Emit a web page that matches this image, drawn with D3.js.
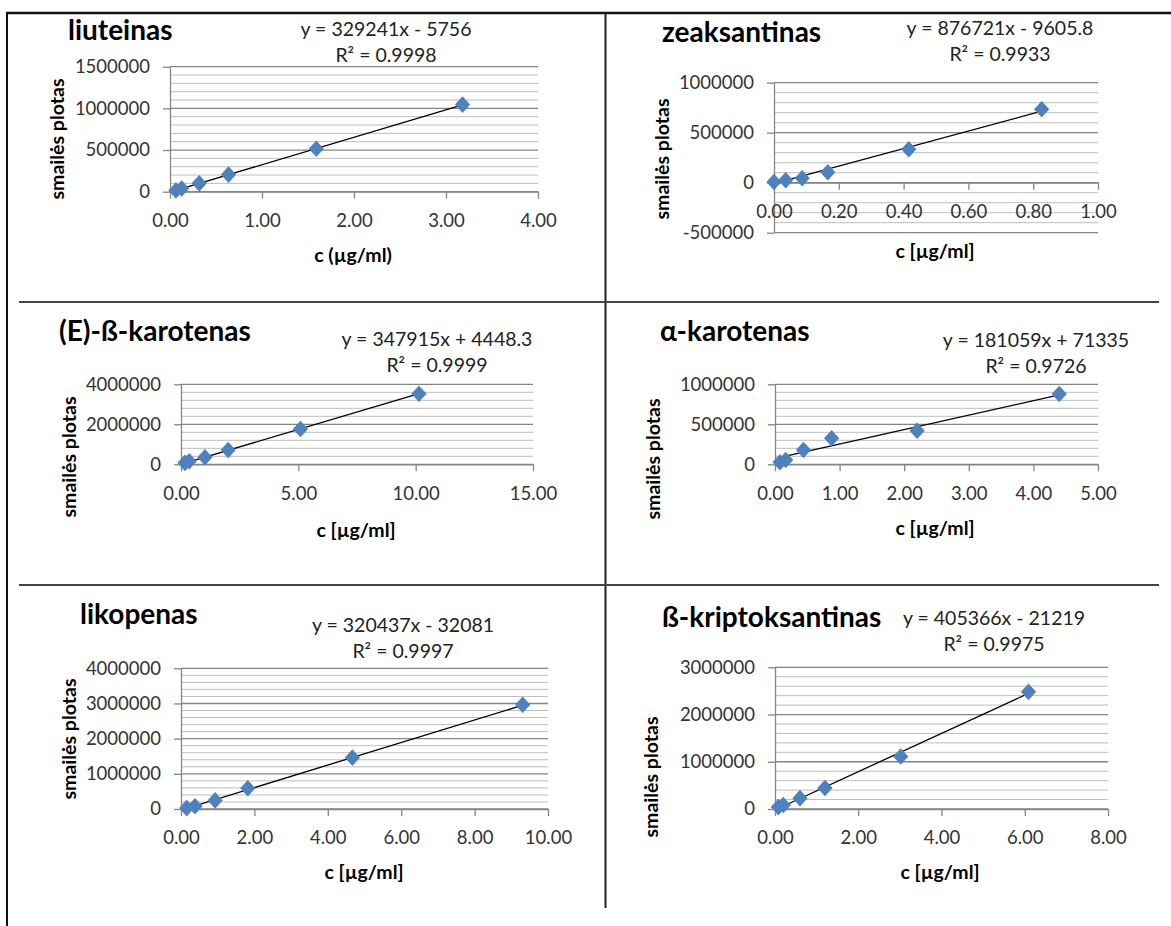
<!DOCTYPE html>
<html>
<head>
<meta charset="utf-8">
<script src="https://cdn.jsdelivr.net/npm/d3@7"></script>
<style>
  body { margin: 0; background: #fff; }
  svg text { font-family: Lato, "Open Sans", "DejaVu Sans", sans-serif; }
</style>
</head>
<body>
<svg id="chart" width="1171" height="926"></svg>
<script>
// ---------------- DATA ----------------
const chartTitles = ["liuteinas", "zeaksantinas", "(E)-ß-karotenas", "α-karotenas", "likopenas", "ß-kriptoksantinas"];
const equationLabels = ["y = 329241x - 5756", "y = 876721x - 9605.8", "y = 347915x + 4448.3", "y = 181059x + 71335", "y = 320437x - 32081", "y = 405366x - 21219"];
const r2Labels = ["R² = 0.9998", "R² = 0.9933", "R² = 0.9999", "R² = 0.9726", "R² = 0.9997", "R² = 0.9975"];
const slopes = [329241, 876721, 347915, 181059, 320437, 405366];
const intercepts = [-5756, -9605.8, 4448.3, 71335, -32081, -21219];
const xAxisTitles = ["c (µg/ml)", "c [µg/ml]", "c [µg/ml]", "c [µg/ml]", "c [µg/ml]", "c [µg/ml]"];
const yAxisTitle = "smailės plotas";

const luteinConc = [0.064, 0.127, 0.318, 0.636, 1.59, 3.18];
const luteinArea = [15000, 38000, 100000, 205000, 515000, 1045000];
const zeaxanthinConc = [0.0, 0.036, 0.087, 0.166, 0.416, 0.826];
const zeaxanthinArea = [8000, 25000, 45000, 105000, 335000, 735000];
const betaCaroteneConc = [0.17, 0.35, 1.02, 2.01, 5.09, 10.14];
const betaCaroteneArea = [72000, 150000, 355000, 712000, 1765000, 3530000];
const alphaCaroteneConc = [0.077, 0.165, 0.44, 0.876, 2.2, 4.4];
const alphaCaroteneArea = [25000, 55000, 180000, 325000, 420000, 880000];
const lycopeneConc = [0.155, 0.38, 0.93, 1.82, 4.67, 9.31];
const lycopeneArea = [25000, 80000, 245000, 590000, 1460000, 2965000];
const cryptoxanthinConc = [0.08, 0.2, 0.6, 1.2, 3.02, 6.09];
const cryptoxanthinArea = [40000, 85000, 230000, 445000, 1110000, 2480000];

const xDomains = [[0, 4], [0, 1], [0, 15], [0, 5], [0, 10], [0, 8]];
const xTickValues = [[0, 1, 2, 3, 4], [0, 0.2, 0.4, 0.6, 0.8, 1], [0, 5, 10, 15], [0, 1, 2, 3, 4, 5], [0, 2, 4, 6, 8, 10], [0, 2, 4, 6, 8]];
const yDomains = [[0, 1500000], [-500000, 1000000], [0, 4000000], [0, 1000000], [0, 4000000], [0, 3000000]];
const yMajorSteps = [500000, 500000, 2000000, 500000, 1000000, 1000000];
const yMinorSteps = [100000, 100000, 400000, 100000, 200000, 200000];

const seriesX = [luteinConc, zeaxanthinConc, betaCaroteneConc, alphaCaroteneConc, lycopeneConc, cryptoxanthinConc];
const seriesY = [luteinArea, zeaxanthinArea, betaCaroteneArea, alphaCaroteneArea, lycopeneArea, cryptoxanthinArea];

// ---------------- LAYOUT (pixels) ----------------
const layout = [
  { x0: 170, x1: 538, yT: 66.7, yB: 191.7, title: [68, 40], eq: [386, 36], xt: [353, 255], yt: [57, 139] },
  { x0: 774, x1: 1098, yT: 82.7, yB: 232.7, title: [662, 42], eq: [1000, 35], xt: [935, 251], yt: [662, 159] },
  { x0: 181, x1: 533, yT: 384.3, yB: 464.3, title: [59, 341], eq: [437, 345.7], xt: [356, 530], yt: [69, 457] },
  { x0: 775, x1: 1098, yT: 384.3, yB: 464.3, title: [660, 341], eq: [1036, 346.7], xt: [935, 528], yt: [653, 459] },
  { x0: 181, x1: 548, yT: 668.3, yB: 809, title: [80, 624], eq: [403, 631.7], xt: [364, 872], yt: [69, 739] },
  { x0: 775, x1: 1108, yT: 667.3, yB: 809, title: [662, 627], eq: [994, 625], xt: [940, 872], yt: [651, 777] }
];
const style = {
  marker: "#4F81BD", trend: "#000", major: "#858585", minor: "#bdbdbd", axis: "#858585",
  tickText: "#333", titleSize: 28, tickSize: 18.5, eqSize: 19.5, axisTitleSize: 19.5, eqGap: 26, markerSize: 125
};

const svg = d3.select("#chart");
svg.append("rect").attr("width", 1171).attr("height", 926).attr("fill", "#fff");

// table lines
const border = svg.append("g").attr("fill", "none");
border.append("line").attr("x1", 6).attr("x2", 1171).attr("y1", 13).attr("y2", 13).attr("stroke", "#111").attr("stroke-width", 2.5);
border.append("line").attr("x1", 7).attr("x2", 7).attr("y1", 12).attr("y2", 926).attr("stroke", "#111").attr("stroke-width", 2);
border.append("line").attr("x1", 605.5).attr("x2", 605.5).attr("y1", 13).attr("y2", 908).attr("stroke", "#222").attr("stroke-width", 2);
[302, 585].forEach(y => border.append("line").attr("x1", 19).attr("x2", 1159).attr("y1", y).attr("y2", y).attr("stroke", "#444").attr("stroke-width", 2));

const fmtX = d3.format(".2f");
const fmtY = d => String(Math.round(d));

// Excel-like diamond marker (slightly taller than wide)
const excelDiamond = {
  draw(ctx, size) {
    const w = Math.sqrt(size) * 0.68, h = Math.sqrt(size) * 0.74;
    ctx.moveTo(0, -h); ctx.lineTo(w, 0); ctx.lineTo(0, h); ctx.lineTo(-w, 0); ctx.closePath();
  }
};

layout.forEach((L, i) => {
  const g = svg.append("g");
  const x = d3.scaleLinear().domain(xDomains[i]).range([L.x0, L.x1]);
  const y = d3.scaleLinear().domain(yDomains[i]).range([L.yB, L.yT]);
  const [ymin, ymax] = yDomains[i];
  const majors = d3.range(ymin, ymax + 1, yMajorSteps[i]);
  const minors = d3.range(ymin, ymax + 1, yMinorSteps[i]).filter(v => !majors.some(m => Math.abs(m - v) < 1));

  g.append("g").selectAll("line").data(minors).join("line")
    .attr("x1", L.x0).attr("x2", L.x1).attr("y1", d => y(d)).attr("y2", d => y(d))
    .attr("stroke", style.minor).attr("stroke-width", 1);
  g.append("g").selectAll("line").data(majors).join("line")
    .attr("x1", L.x0).attr("x2", L.x1).attr("y1", d => y(d)).attr("y2", d => y(d))
    .attr("stroke", style.major).attr("stroke-width", 1.3);

  // y axis
  const ya = g.append("g").attr("transform", `translate(${L.x0},0)`)
    .call(d3.axisLeft(y).tickValues(majors).tickFormat(fmtY).tickSize(7).tickSizeOuter(0).tickPadding(13));
  ya.select(".domain").attr("stroke", style.axis).attr("stroke-width", 1.3);
  ya.selectAll(".tick line").attr("stroke", style.axis).attr("stroke-width", 1.3);
  ya.selectAll("text").attr("fill", style.tickText).style("font-size", style.tickSize + "px");

  // x axis at y=0
  const xa = g.append("g").attr("transform", `translate(0,${y(0)})`)
    .call(d3.axisBottom(x).tickValues(xTickValues[i]).tickFormat(fmtX).tickSize(7).tickSizeOuter(0));
  xa.select(".domain").attr("stroke", style.axis).attr("stroke-width", 1.3);
  xa.selectAll(".tick line").attr("stroke", style.axis).attr("stroke-width", 1.3);
  xa.selectAll("text").attr("fill", style.tickText).attr("y", 29).attr("dy", "0.35em").style("font-size", style.tickSize + "px");

  // trendline from equation
  const xs = seriesX[i];
  const xe = d3.extent(xs);
  g.append("line")
    .attr("x1", x(xe[0])).attr("y1", y(slopes[i] * xe[0] + intercepts[i]))
    .attr("x2", x(xe[1])).attr("y2", y(slopes[i] * xe[1] + intercepts[i]))
    .attr("stroke", style.trend).attr("stroke-width", 1.3);

  // markers
  const sym = d3.symbol().type(excelDiamond).size(style.markerSize);
  g.append("g").selectAll("path").data(xs.map((v, k) => [v, seriesY[i][k]])).join("path")
    .attr("d", sym)
    .attr("transform", d => `translate(${x(d[0])},${y(d[1])})`)
    .attr("fill", style.marker);

  // texts
  g.append("text").attr("x", L.title[0]).attr("y", L.title[1])
    .style("font-size", style.titleSize + "px").style("font-weight", "bold").attr("fill", "#000")
    .text(chartTitles[i]);
  g.append("text").attr("x", L.eq[0]).attr("y", L.eq[1]).attr("text-anchor", "middle")
    .style("font-size", style.eqSize + "px").attr("fill", "#222").text(equationLabels[i]);
  g.append("text").attr("x", L.eq[0]).attr("y", L.eq[1] + style.eqGap).attr("text-anchor", "middle")
    .style("font-size", style.eqSize + "px").attr("fill", "#222").text(r2Labels[i]);
  g.append("text").attr("x", L.xt[0]).attr("y", L.xt[1]).attr("dy", "0.35em").attr("text-anchor", "middle")
    .style("font-size", style.axisTitleSize + "px").style("font-weight", "bold").attr("fill", "#000")
    .text(xAxisTitles[i]);
  g.append("text").attr("transform", `translate(${L.yt[0]},${L.yt[1]}) rotate(-90)`)
    .attr("dy", "0.35em").attr("text-anchor", "middle")
    .style("font-size", style.axisTitleSize + "px").style("font-weight", "bold").attr("fill", "#000")
    .text(yAxisTitle);
});
</script>
</body>
</html>
